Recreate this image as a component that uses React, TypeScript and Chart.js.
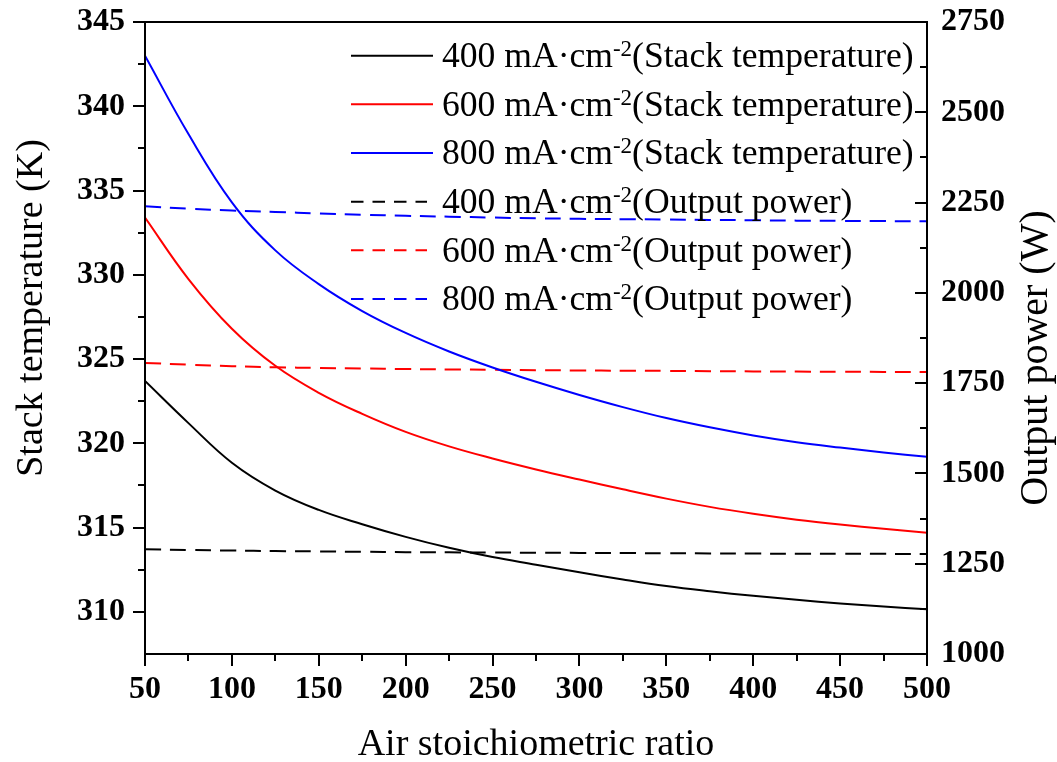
import React, { useEffect, useRef } from "react";
import { Chart, registerables } from "chart.js";

Chart.register(...registerables);

// ---- data ----
const airRatio = [50, 75, 100, 125, 150, 175, 200, 225, 250, 275, 300, 325, 350, 375, 400, 425, 450, 475, 500];

const temp400 = [323.7, 321.2, 318.85, 317.2, 316.05, 315.2, 314.45, 313.8, 313.25, 312.8, 312.35, 311.92, 311.53, 311.22, 310.95, 310.72, 310.5, 310.32, 310.15];
const temp600 = [333.4, 329.75, 326.8, 324.6, 323.0, 321.75, 320.68, 319.82, 319.1, 318.45, 317.85, 317.27, 316.72, 316.23, 315.82, 315.47, 315.18, 314.93, 314.7];
const temp800 = [343.0, 338.35, 334.3, 331.45, 329.45, 327.85, 326.55, 325.45, 324.5, 323.65, 322.87, 322.15, 321.5, 320.95, 320.47, 320.07, 319.75, 319.46, 319.2];

const power400 = [1290, 1288, 1286.5, 1285, 1284, 1283, 1282, 1281.5, 1281, 1280.5, 1280, 1279.5, 1279, 1278.5, 1278, 1277.8, 1277.5, 1277.3, 1277];
const power600 = [1806, 1801, 1797, 1794, 1792, 1790.5, 1789, 1788, 1787, 1786, 1785, 1784.5, 1784, 1783, 1782.5, 1782, 1781.5, 1781.2, 1781];
const power800 = [2240, 2233, 2228, 2224, 2220, 2216.5, 2213.5, 2211, 2208.5, 2206.5, 2205, 2204, 2203, 2202, 2201, 2200, 2199.3, 2198.7, 2198];

const xTicks = [50, 100, 150, 200, 250, 300, 350, 400, 450, 500];
const xMinorTicks = [75, 125, 175, 225, 275, 325, 375, 425, 475];
const leftTicks = [310, 315, 320, 325, 330, 335, 340, 345];
const leftMinorTicks = [312.5, 317.5, 322.5, 327.5, 332.5, 337.5, 342.5];
const rightTicks = [1000, 1250, 1500, 1750, 2000, 2250, 2500, 2750];
const rightMinorTicks = [1125, 1375, 1625, 1875, 2125, 2375, 2625];

const legendLabels = [
  "400 mA·cm",
  "600 mA·cm",
  "800 mA·cm",
  "400 mA·cm",
  "600 mA·cm",
  "800 mA·cm",
];
const legendSuffix = [
  "(Stack temperature)",
  "(Stack temperature)",
  "(Stack temperature)",
  "(Output power)",
  "(Output power)",
  "(Output power)",
];
const leftTitle = "Stack temperature (K)";
const rightTitle = "Output power (W)";
const bottomTitle = "Air stoichiometric ratio";

const FONT = '"Liberation Serif", "Times New Roman", serif';
const DASH = [16, 9];

const framePlugin = {
  id: "framePlugin",
  afterDraw(chart: any) {
    const ctx = chart.ctx;
    const { left, right, top, bottom } = chart.chartArea;
    const xs = chart.scales.x;
    const yl = chart.scales.yL;
    const yr = chart.scales.yR;
    ctx.save();
    ctx.strokeStyle = "#000";
    ctx.lineWidth = 2;
    ctx.lineCap = "butt";
    ctx.beginPath();
    ctx.rect(left, top, right - left, bottom - top);
    ctx.stroke();

    const major = 12;
    const minor = 7;
    ctx.beginPath();
    xTicks.forEach((v) => {
      const p = Math.round(xs.getPixelForValue(v));
      ctx.moveTo(p, bottom);
      ctx.lineTo(p, bottom + major);
    });
    xMinorTicks.forEach((v) => {
      const p = Math.round(xs.getPixelForValue(v));
      ctx.moveTo(p, bottom);
      ctx.lineTo(p, bottom + minor);
    });
    leftTicks.forEach((v) => {
      const p = Math.round(yl.getPixelForValue(v));
      ctx.moveTo(left, p);
      ctx.lineTo(left - major, p);
    });
    leftMinorTicks.forEach((v) => {
      const p = Math.round(yl.getPixelForValue(v));
      ctx.moveTo(left, p);
      ctx.lineTo(left - minor, p);
    });
    rightTicks.forEach((v) => {
      const p = Math.round(yr.getPixelForValue(v));
      ctx.moveTo(right, p);
      ctx.lineTo(right - major, p);
    });
    rightMinorTicks.forEach((v) => {
      const p = Math.round(yr.getPixelForValue(v));
      ctx.moveTo(right, p);
      ctx.lineTo(right - minor, p);
    });
    ctx.stroke();

    // axis titles (vertical)
    ctx.fillStyle = "#000";
    ctx.textAlign = "center";
    ctx.textBaseline = "middle";
    ctx.save();
    ctx.translate(32, 308);
    ctx.rotate(-Math.PI / 2);
    ctx.font = `38px ${FONT}`;
    ctx.fillText(leftTitle, 0, 0);
    ctx.restore();
    ctx.save();
    ctx.translate(1036, 358);
    ctx.rotate(-Math.PI / 2);
    ctx.font = `40px ${FONT}`;
    ctx.fillText(rightTitle, 0, 0);
    ctx.restore();

    // legend
    const datasets = chart.data.datasets;
    const x0 = 351;
    const x1 = 433;
    const textX = 442;
    const rowY0 = 55.7;
    const rowGap = 48.65;
    ctx.textAlign = "left";
    ctx.textBaseline = "alphabetic";
    datasets.forEach((ds: any, i: number) => {
      const y = rowY0 + i * rowGap;
      ctx.save();
      ctx.strokeStyle = ds.borderColor;
      ctx.lineWidth = 2;
      if (ds.borderDash && ds.borderDash.length) {
        ctx.setLineDash([12.5, 9]);
        ctx.beginPath();
        ctx.moveTo(x0, y);
        ctx.lineTo(x0 + 76, y);
        ctx.stroke();
      } else {
        ctx.beginPath();
        ctx.moveTo(x0, y);
        ctx.lineTo(x1, y);
        ctx.stroke();
      }
      ctx.restore();
      const base = y + 11.3;
      ctx.fillStyle = "#000";
      ctx.font = `35.6px ${FONT}`;
      const main = legendLabels[i];
      ctx.fillText(main, textX, base);
      let cx = textX + ctx.measureText(main).width;
      ctx.font = `23px ${FONT}`;
      ctx.fillText("-2", cx, base - 11);
      cx += ctx.measureText("-2").width;
      ctx.font = `35.6px ${FONT}`;
      ctx.fillText(legendSuffix[i], cx, base);
    });
    ctx.restore();
  },
};

export default function App() {
  const canvasRef = useRef<HTMLCanvasElement | null>(null);

  useEffect(() => {
    const canvas = canvasRef.current;
    if (!canvas) return;
    const mk = (arr: number[]) => airRatio.map((x, i) => ({ x, y: arr[i] }));
    const tickFont = { family: FONT, size: 32, weight: "bold" as const, lineHeight: 1 };
    const fitV = (w: number) => (s: any) => {
      s.width = w;
      s.paddingTop = 0;
      s.paddingBottom = 0;
    };
    const chart = new Chart(canvas, {
      type: "line",
      data: {
        datasets: [
          { label: "400 T", data: mk(temp400), borderColor: "#000000", yAxisID: "yL" },
          { label: "600 T", data: mk(temp600), borderColor: "#ff0000", yAxisID: "yL" },
          { label: "800 T", data: mk(temp800), borderColor: "#0000ff", yAxisID: "yL" },
          { label: "400 P", data: mk(power400), borderColor: "#000000", yAxisID: "yR", borderDash: DASH },
          { label: "600 P", data: mk(power600), borderColor: "#ff0000", yAxisID: "yR", borderDash: DASH },
          { label: "800 P", data: mk(power800), borderColor: "#0000ff", yAxisID: "yR", borderDash: DASH },
        ].map((d) => ({
          ...d,
          borderWidth: 2,
          pointRadius: 0,
          fill: false,
          tension: 0.4,
        })),
      },
      options: {
        responsive: false,
        animation: false,
        events: [],
        layout: { autoPadding: false, padding: { top: 22, left: 0, right: 0, bottom: 0 } },
        plugins: { legend: { display: false }, tooltip: { enabled: false }, title: { display: false } },
        scales: {
          x: {
            type: "linear",
            min: 50,
            max: 500,
            afterBuildTicks: (s: any) => {
              s.ticks = xTicks.map((v) => ({ value: v }));
            },
            afterFit: (s: any) => {
              s.height = 108;
              s.paddingLeft = 0;
              s.paddingRight = 0;
            },
            grid: { display: false, drawTicks: false },
            border: { display: false },
            ticks: {
              autoSkip: false,
              maxRotation: 0,
              padding: 20,
              color: "#000",
              font: tickFont,
              callback: (v: any) => String(v),
            },
            title: {
              display: true,
              text: bottomTitle,
              color: "#000",
              padding: { top: 0, bottom: 0 },
              font: { family: FONT, size: 38, lineHeight: 0.9 },
            },
          },
          yL: {
            type: "linear",
            position: "left",
            min: 307.5,
            max: 345,
            afterBuildTicks: (s: any) => {
              s.ticks = leftTicks.map((v) => ({ value: v }));
            },
            afterFit: fitV(145),
            grid: { display: false, drawTicks: false },
            border: { display: false },
            ticks: {
              autoSkip: false,
              padding: 20,
              color: "#000",
              font: tickFont,
              callback: (v: any) => String(v),
            },
            title: { display: false },
          },
          yR: {
            type: "linear",
            position: "right",
            min: 1000,
            max: 2750,
            afterBuildTicks: (s: any) => {
              s.ticks = rightTicks.map((v) => ({ value: v }));
            },
            afterFit: fitV(130),
            grid: { display: false, drawTicks: false },
            border: { display: false },
            ticks: {
              autoSkip: false,
              padding: 14,
              color: "#000",
              font: tickFont,
              callback: (v: any) => String(v),
            },
            title: { display: false },
          },
        },
      },
      plugins: [framePlugin],
    });
    return () => chart.destroy();
  }, []);

  return (
    <div style={{ position: "fixed", left: 0, top: 0, width: 1057, height: 762, background: "#fff" }}>
      <canvas ref={canvasRef} width={1057} height={762} style={{ display: "block" }} />
    </div>
  );
}
